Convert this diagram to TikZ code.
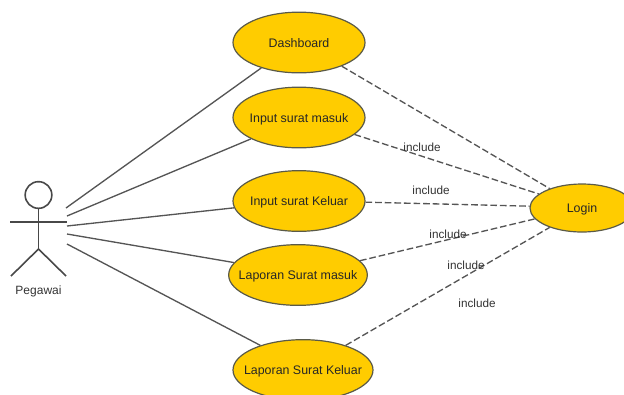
\documentclass[tikz,border=0pt]{standalone}
\usepackage{fontspec}
\setmainfont{Liberation Sans}
\usetikzlibrary{shapes.geometric}
\definecolor{casefill}{HTML}{FFCC00}
\definecolor{caseline}{HTML}{5A5A48}
\definecolor{linkline}{HTML}{555555}
\definecolor{labeltext}{HTML}{333333}
\tikzset{
  usecase/.style={ellipse, inner ysep=0pt, inner xsep=-14pt, text height=7pt, text depth=0pt, fill=casefill, draw=caseline, line width=0.9pt, minimum width=99pt, minimum height=45.5pt, text=black!85, font=\fontsize{9.3}{11}\selectfont},
  actorline/.style={draw=linkline!85!black, line width=1.2pt},
  assoc/.style={draw=linkline, line width=1pt},
  incl/.style={draw=linkline, line width=1pt, dash pattern=on 5pt off 2.2pt},
  lbl/.style={text=labeltext, inner sep=0pt, font=\fontsize{8.8}{10}\selectfont}
}

\begin{document}
\begin{tikzpicture}[x=0.75pt, y=-0.75pt]
	\useasboundingbox (0,0) rectangle (624,394);
	\clip (0,0) rectangle (624,394);

	% use cases
	\node[usecase] (dash) at (299,42.5) {Dashboard};
	\node[usecase] (inmasuk) at (299,117.5) {Input surat masuk};
	\node[usecase] (inkeluar) at (299,201) {Input surat Keluar};
	\node[usecase, minimum width=104pt] (lapmasuk) at (298,275) {Laporan Surat masuk};
	\node[usecase, minimum width=105pt] (lapkeluar) at (303,370) {Laporan Surat Keluar};
	\node[usecase, minimum width=78pt, minimum height=36pt] (login) at (582,208) {Login};

	% actor
	\node[circle, actorline, inner sep=0pt, minimum size=20pt] (head) at (38.5,195) {};
	\coordinate (armL) at (10,222);
	\coordinate (armR) at (67,222);
	\coordinate (hip) at (38.5,249);
	\coordinate (footL) at (11,276);
	\coordinate (footR) at (66,276);
	\node[inner sep=0pt, text=labeltext, font=\fontsize{9}{11}\selectfont] (actor) at (38.5,291) {Pegawai};
	\draw[actorline] (head.south) -- (hip);
	\draw[actorline] (armL) -- (armR);
	\draw[actorline] (footL) -- (hip) -- (footR);

	% free ends beside the actor
	\coordinate (a1) at (66,208);
	\coordinate (a2) at (67,216);
	\coordinate (a3) at (67,226);
	\coordinate (a4) at (67,234);
	\coordinate (a5) at (67,244);

	\path (a1) edge [assoc] (dash.214);
	\path (a2) edge [assoc] (inmasuk.204);
	\path (a3) edge [assoc] (inkeluar.186);
	\path (a4) edge [assoc] (lapmasuk.169);
	\path (a5) edge [assoc] (lapkeluar.150);

	\path (dash.-29) edge [incl] (login.149);
	\path (inmasuk.-17) edge [incl] (login.162);
	\path (inkeluar.-1) edge [incl] (login.178);
	\path (lapmasuk.13) edge [incl] (login.193);
	\path (lapkeluar.30) edge [incl] (login.211);

	% labels
	\node[lbl] (inc1) at (422,147) {include};
	\node[lbl] (inc2) at (431,190) {include};
	\node[lbl] (inc3) at (448,234) {include};
	\node[lbl] (inc4) at (466,265) {include};
	\node[lbl] (inc5) at (477,303) {include};
\end{tikzpicture}
\end{document}
